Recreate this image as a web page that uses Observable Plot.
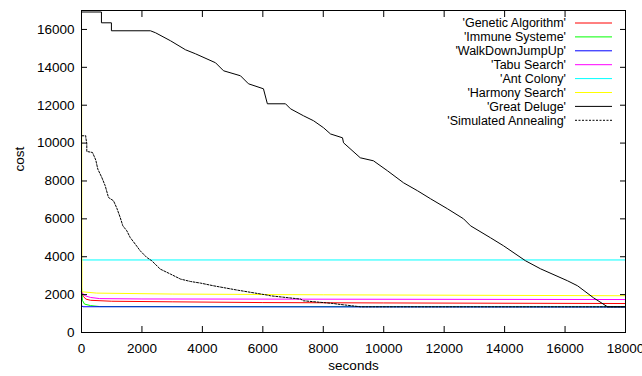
<!DOCTYPE html>
<html>
<head>
<meta charset="utf-8">
<script src="https://cdn.jsdelivr.net/npm/d3@7"></script>
<script src="https://cdn.jsdelivr.net/npm/@observablehq/plot@0.6"></script>
<style>
  html, body { margin: 0; padding: 0; background: #fff; }
  #chart svg { display: block; }
</style>
</head>
<body>
<div id="chart"></div>
<script>
// ---- data (seconds, cost) ----
const seriesNames = ["Genetic Algorithm", "Immune Systeme", "WalkDownJumpUp", "Tabu Search",
  "Ant Colony", "Harmony Search", "Great Deluge", "Simulated Annealing"];
const seriesColors = ["#ff0000", "#00ff00", "#0000ff", "#ff00ff", "#00ffff", "#ffff00", "#000000", "#000000"];

const geneticAlgorithm = [[0,2150],[60,1900],[150,1760],[300,1700],[1000,1650],[3000,1620],[6000,1580],[10000,1560],[18000,1530]];
const immuneSysteme = [[0,2400],[30,1700],[100,1500],[300,1420],[600,1370],[18000,1357]];
const walkDownJumpUp = [[0,1420],[50,1360],[18000,1345]];
const tabuSearch = [[0,2150],[100,1950],[300,1850],[600,1790],[2000,1770],[18000,1740]];
const antColony = [[0,3830],[18000,3830]];
const harmonySearch = [[0,16900],[15,2150],[500,2080],[3000,2030],[8000,1990],[18000,1940]];
const greatDeluge = [[0,16920],[660,16920],[660,16350],[990,16350],[990,15930],[2280,15930],[2450,15824],
  [2945,15402],[3440,14927],[3770,14715],[4435,14240],[4700,13818],[5260,13554],[5525,13131],[6020,12867],
  [6150,12075],[6750,12075],[6915,11811],[7345,11442],[7680,11178],[8010,10808],[8240,10482],[8636,10280],
  [8670,10016],[9224,9224],[9660,9065],[10125,8537],[10655,7904],[11120,7482],[11550,7059],[12110,6531],
  [12640,6003],[12872,5633],[13534,5000],[13964,4578],[14692,3786],[15188,3363],[16082,2730],[16413,2466],
  [16942,1832],[17405,1357],[18000,1357]];
const simulatedAnnealing = [[10,10386],[142,10386],[142,10296],[175,9979],[175,9557],[364,9504],[473,9103],
  [539,8628],[672,8184],[784,7746],[893,7128],[1059,6954],[1168,6568],[1281,6072],[1367,5634],[1499,5370],
  [1611,5016],[1777,4668],[1942,4314],[2161,3960],[2327,3786],[2604,3348],[2945,3084],[3276,2820],[3607,2693],
  [3938,2608],[4368,2466],[5152,2239],[6145,1975],[6254,1938],[7247,1764],[7346,1674],[8339,1531],[8461,1500],
  [9232,1357],[18000,1357]];

const xTicks = [0,2000,4000,6000,8000,10000,12000,14000,16000,18000];
const yTicks = [0,2000,4000,6000,8000,10000,12000,14000,16000];
const xLabel = "seconds";
const yLabel = "cost";

// ---- build table ----
const allSeries = [geneticAlgorithm, immuneSysteme, walkDownJumpUp, tabuSearch, antColony, harmonySearch, greatDeluge, simulatedAnnealing];
const rows = allSeries.map((arr, i) => arr.map(([t, c]) => ({t, cost: c, name: seriesNames[i]})));

const font = "'Liberation Sans', Arial, sans-serif";
const marks = [];
rows.forEach((r, i) => {
  marks.push(Plot.line(r, {
    x: "t", y: "cost", stroke: seriesColors[i], strokeWidth: 1,
    strokeDasharray: seriesNames[i] === "Simulated Annealing" ? "2,1.5" : null
  }));
});

const plot = Plot.plot({
  width: 642,
  height: 376,
  marginLeft: 81,
  marginRight: 17,
  marginTop: 10,
  marginBottom: 44,
  style: {fontFamily: font, fontSize: "13px", background: "#fff", color: "#000"},
  x: {domain: [0, 18000], label: null},
  y: {domain: [0, 17000], label: null},
  marks: [
    ...marks,
    Plot.frame({stroke: "#000", strokeWidth: 1}),
    Plot.axisX(xTicks, {anchor: "bottom", tickSize: -6, tickPadding: 17, tickFormat: d => String(d), label: null, fontSize: 13.5}),
    Plot.axisX(xTicks, {anchor: "top", tickSize: -6, tickFormat: () => "", label: null}),
    Plot.axisY(yTicks, {anchor: "left", tickSize: -6, tickPadding: 13, tickFormat: d => String(d), label: null, fontSize: 13.5}),
    Plot.axisY(yTicks, {anchor: "right", tickSize: -6, tickFormat: () => "", label: null}),
    Plot.text([xLabel], {frameAnchor: "bottom", dy: 37, fontSize: 13.5, text: d => d}),
    Plot.text([yLabel], {frameAnchor: "left", dx: -62, rotate: -90, fontSize: 13.5, text: d => d})
  ]
});
document.getElementById("chart").appendChild(plot);

// ---- legend (gnuplot style, inside top-right) ----
const svg = d3.select(plot);
const lg = svg.append("g").attr("font-family", font).attr("font-size", 12.5);
const textRight = 566, lineX1 = 575, lineX2 = 612, top0 = 23, step = 13.9;
seriesNames.forEach((name, i) => {
  const y = top0 + i * step;
  lg.append("text").attr("x", textRight).attr("y", y).attr("dy", "0.35em")
    .attr("text-anchor", "end").attr("fill", "#000").text(`'${name}'`);
  lg.append("line").attr("x1", lineX1).attr("x2", lineX2).attr("y1", y).attr("y2", y)
    .attr("stroke", seriesColors[i]).attr("stroke-width", 1)
    .attr("stroke-dasharray", name === "Simulated Annealing" ? "2,1.5" : null);
});
</script>
</body>
</html>
